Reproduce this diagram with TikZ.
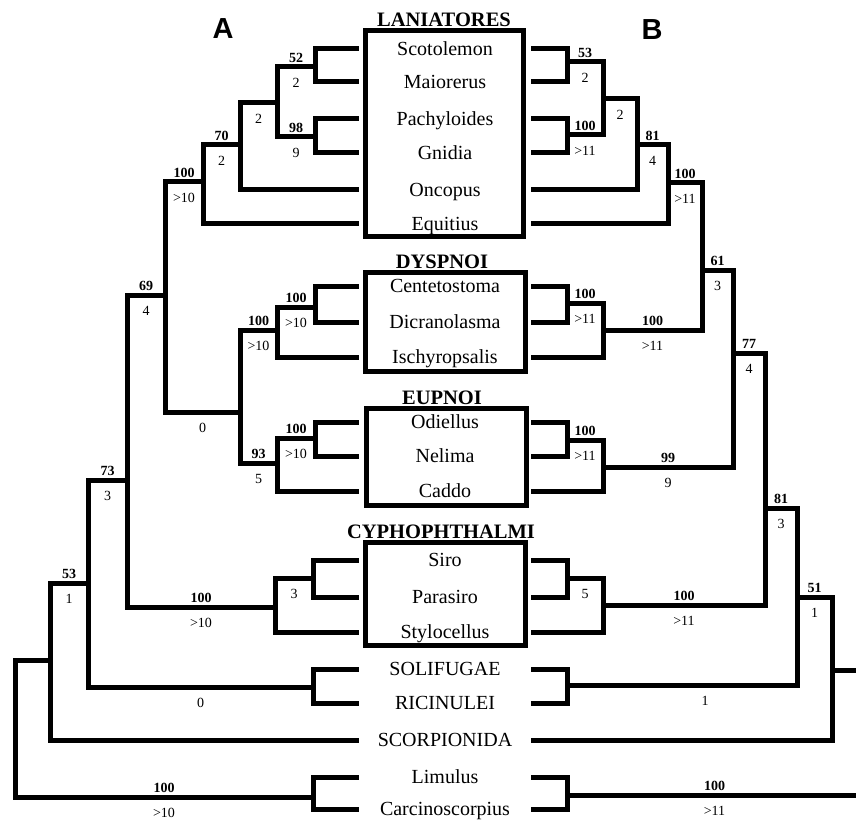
\documentclass[tikz,border=0pt]{standalone}
\usepackage{fontspec}
\setmainfont{Liberation Serif}
\newfontfamily\headsans{Liberation Sans}
\usetikzlibrary{positioning,calc}

\begin{document}
\begin{tikzpicture}[x=1pt,y=-1pt,
    br/.style={line width=5pt, line cap=rect, line join=miter},
    taxon/.style={font=\fontsize{20}{20}\selectfont, minimum width=176pt, inner sep=0pt, text height=15pt, text depth=2pt},
    grp/.style={draw, line width=5pt, inner sep=0pt},
    hd/.style={font=\bfseries\fontsize{20.5}{20.5}\selectfont, inner sep=0pt},
    sup/.style={font=\bfseries\fontsize{14}{14}\selectfont, inner sep=0pt, yshift=9pt},
    brm/.style={font=\fontsize{14}{14}\selectfont, inner sep=0pt, yshift=-16pt},
    panel/.style={font=\headsans\bfseries\fontsize{29}{29}\selectfont, inner sep=0pt}]
   \useasboundingbox (0,0) rectangle (856,826);
   \node[panel] (lblA) at (223,29) {A};
   \node[panel] (lblB) at (652,30) {B};
   \foreach \n/\t/\y in {scot/Scotolemon/49, maio/Maiorerus/82, pach/Pachyloides/119, gnid/Gnidia/153,
       onco/Oncopus/190, equi/Equitius/224, cent/Centetostoma/286, dicr/Dicranolasma/322,
       isch/Ischyropsalis/357, odie/Odiellus/422, neli/Nelima/456, cadd/Caddo/491,
       siro/Siro/560, para/Parasiro/597, styl/Stylocellus/632, soli/SOLIFUGAE/669,
       rici/RICINULEI/703, scor/SCORPIONIDA/740, limu/Limulus/777, carc/Carcinoscorpius/809}
     \node[taxon] (\n) at (445,\y) {\t};
   \node[grp, minimum width=158pt, minimum height=206pt] (lan) at (444,134) {};
   \node[grp, minimum width=160pt, minimum height=99pt] (dys) at (445,321.5) {};
   \node[grp, minimum width=160pt, minimum height=97pt] (eup) at (446,456.5) {};
   \node[grp, minimum width=160pt, minimum height=103pt] (cyp) at (445,593.5) {};
   \node[hd, above=2pt of lan.north] (lanhd) {LANIATORES};
   \node[hd, above=1pt of dys.north, xshift=-3pt] (dyshd) {DYSPNOI};
   \node[hd, above=1pt of eup.north, xshift=-4pt] (euphd) {EUPNOI};
   \node[hd, above=1pt of cyp.north, xshift=-4pt] (cyphd) {CYPHOPHTHALMI};
   \foreach \n/\px/\py in {a52/315/67, a98/315/137, a2/277/103, a70/240/145, aLan/203/182,
       aDy1/315/307, aDys/277/330, aEu1/315/438, aEup/277/463, aPal/240/412, a69/165/295,
       aCy1/313/578, aCyp/275/607, a73/127/480, aSR/313/687, a53/88/583, aSco/50/660,
       aLim/313/797, aRoot/15/730,
       b53/567/62, b100/567/135, b2/603/99, b81/637/145, bLan/668/183,
       bDy1/567/303, bDys/603/330, b61/702/270, bEu1/567/440, bEup/603/467, b77/733/353,
       bCy1/567/578, bCyp/603/605, b81c/765/508, bSR/567/685, b51/797/597, bSco/832/670,
       bLim/567/795, bRoot/862/730}
     \coordinate (\n) at (\px,\py);
   \foreach \p/\u/\l in {a52/scot.west/maio.west, a98/pach.west/gnid.west, a2/a52/a98,
       a70/a2/onco.west, aLan/a70/equi.west, aDy1/cent.west/dicr.west, aDys/aDy1/isch.west,
       aEu1/odie.west/neli.west, aEup/aEu1/cadd.west, aPal/aDys/aEup, a69/aLan/aPal,
       aCy1/siro.west/para.west, aCyp/aCy1/styl.west, a73/a69/aCyp, aSR/soli.west/rici.west,
       a53/a73/aSR, aSco/a53/scor.west, aLim/limu.west/carc.west, aRoot/aSco/aLim,
       b53/scot.east/maio.east, b100/pach.east/gnid.east, b2/b53/b100, b81/b2/onco.east,
       bLan/b81/equi.east, bDy1/cent.east/dicr.east, bDys/bDy1/isch.east, b61/bLan/bDys,
       bEu1/odie.east/neli.east, bEup/bEu1/cadd.east, b77/b61/bEup,
       bCy1/siro.east/para.east, bCyp/bCy1/styl.east, b81c/b77/bCyp,
       bSR/soli.east/rici.east, b51/b81c/bSR, bSco/b51/scor.east,
       bLim/limu.east/carc.east, bRoot/bSco/bLim}
     \draw[br] (\u) -| (\p) |- (\l);
   \foreach \c/\p/\s/\b in {a52/a2/52/2, a98/a2/98/9, a2/a70//2, a70/aLan/70/2,
       aLan/a69/100/{>10}, a69/a73/69/4, aDy1/aDys/100/{>10}, aDys/aPal/100/{>10},
       aEu1/aEup/100/{>10}, aEup/aPal/93/5, aPal/a69//0, aCy1/aCyp//3,
       aCyp/a73/100/{>10}, a73/a53/73/3, aSR/a53//0, a53/aSco/53/1, aLim/aRoot/100/{>10},
       b53/b2/53/2, b100/b2/100/{>11}, b2/b81//2, b81/bLan/81/4, bLan/b61/100/{>11},
       bDy1/bDys/100/{>11}, bDys/b61/100/{>11}, b61/b77/61/3, bEu1/bEup/100/{>11},
       bEup/b77/99/9, b77/b81c/77/4, bCy1/bCyp//5, bCyp/b81c/100/{>11},
       b81c/b51/81/3, b51/bSco/51/1, bLim/bRoot/100/{>11}}
     \path (\c) -- node[sup] {\s} node[brm] {\b} (\c -| \p);
   \path (bSR) -- node[pos=0.6, brm] {1} (bSR -| b51);
\end{tikzpicture}
\end{document}
